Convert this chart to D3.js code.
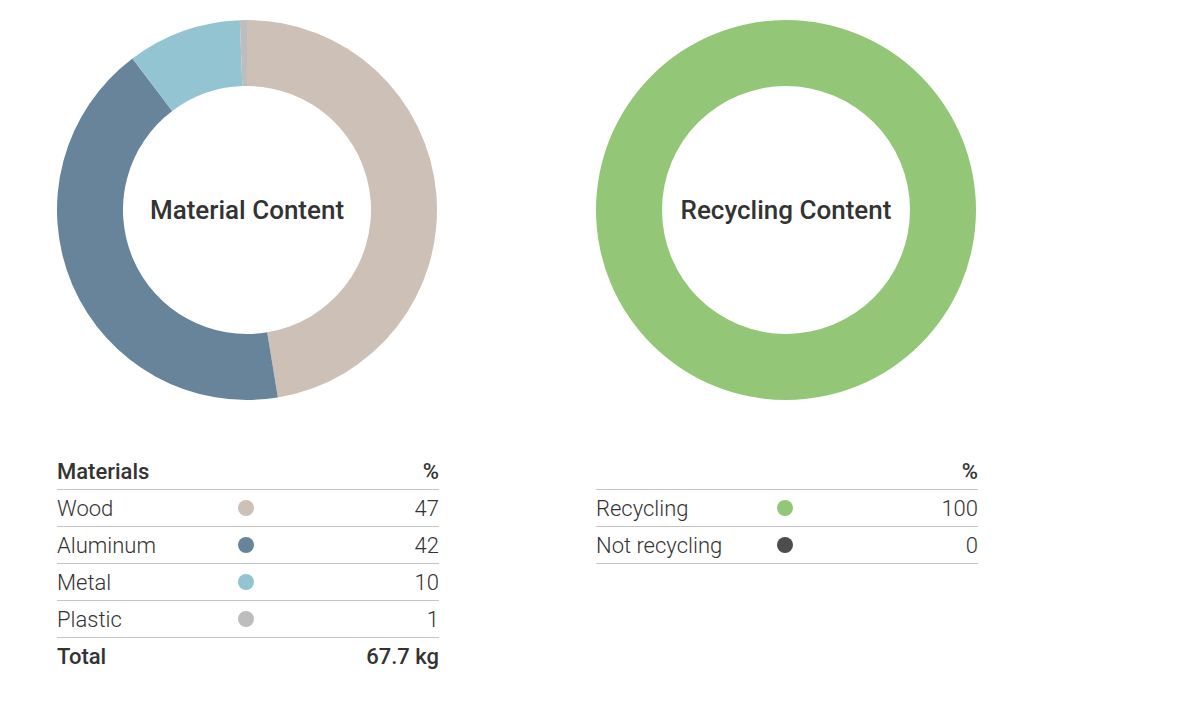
<!DOCTYPE html>
<html>
<head>
<meta charset="utf-8">
<script src="https://cdn.jsdelivr.net/npm/d3@7"></script>
<style>
  body { margin: 0; background: #fff; font-family: Roboto, "Open Sans", sans-serif; }
  .title { font-weight: 500; fill: #333; }
  .row { font-weight: 300; fill: #333; }
  .head { font-weight: 500; fill: #333; }
</style>
</head>
<body>
<div id="chart"></div>
<script>
const materials = ["Wood", "Aluminum", "Metal", "Plastic"];
// slice shares as drawn, and the rounded labels shown in the table
const materialShares = [47.4, 42.3, 9.7, 0.6];
const materialLabels = [47, 42, 10, 1];
const materialColors = ["#cdc0b7", "#68849b", "#93c4d2", "#bdbdbd"];
const materialTotal = "67.7 kg";

const recycling = ["Recycling", "Not recycling"];
const recyclingValues = [100, 0];
const recyclingColors = ["#93c677", "#4d4d4d"];

const svg = d3.select("#chart")
    .append("svg")
        .attr("width", 1200)
        .attr("height", 727);

const arc = d3.arc()
    .innerRadius(124)
    .outerRadius(190);

const pie = d3.pie()
    .sort(null)
    .value(d => d);

const drawDonut = (cx, cy, values, colors, title) => {
    const g = svg.append("g")
        .attr("transform", `translate(${cx}, ${cy})`);

    g.selectAll("path")
        .data(pie(values))
        .enter()
        .append("path")
            .attr("d", arc)
            .attr("fill", (d, i) => colors[i]);

    g.append("text")
        .classed("title", true)
        .attr("text-anchor", "middle")
        .attr("dy", "0.35em")
        .attr("font-size", 26)
        .text(title);
};

const drawTable = (x, y, width, header, names, values, colors, total) => {
    const rowH = 37;
    const fs = 22;
    const g = svg.append("g")
        .attr("transform", `translate(${x}, ${y})`);

    const rows = names.map((n, i) => ({ name: n, value: values[i], color: colors[i] }));

    const yScale = d3.scaleBand()
        .domain(d3.range(rows.length))
        .range([0, rows.length * rowH]);

    if (header) {
        g.append("text")
            .classed("head", true)
            .attr("y", -11)
            .attr("font-size", fs)
            .text(header);
    }
    g.append("text")
        .classed("head", true)
        .attr("x", width)
        .attr("y", -11)
        .attr("text-anchor", "end")
        .attr("font-size", fs)
        .text("%");

    g.append("line")
        .attr("x1", 0).attr("x2", width)
        .attr("stroke", "#c4c4c4");

    const row = g.selectAll("g.r")
        .data(rows)
        .enter()
        .append("g")
            .classed("r", true)
            .attr("transform", (d, i) => `translate(0, ${yScale(i)})`);

    row.append("text")
        .classed("row", true)
        .attr("y", rowH / 2)
        .attr("dy", "0.35em")
        .attr("font-size", fs)
        .text(d => d.name);

    row.append("circle")
        .attr("cx", 189)
        .attr("cy", rowH / 2)
        .attr("r", 8)
        .attr("fill", d => d.color);

    row.append("text")
        .classed("row", true)
        .attr("x", width)
        .attr("y", rowH / 2)
        .attr("dy", "0.35em")
        .attr("text-anchor", "end")
        .attr("font-size", fs)
        .text(d => d.value);

    row.append("line")
        .attr("x1", 0).attr("x2", width)
        .attr("y1", rowH).attr("y2", rowH)
        .attr("stroke", "#c4c4c4");

    if (total) {
        const ty = rows.length * rowH + rowH / 2;
        g.append("text")
            .classed("head", true)
            .attr("y", ty)
            .attr("dy", "0.35em")
            .attr("font-size", fs)
            .text("Total");
        g.append("text")
            .classed("head", true)
            .attr("x", width)
            .attr("y", ty)
            .attr("dy", "0.35em")
            .attr("text-anchor", "end")
            .attr("font-size", fs)
            .text(total);
    }
};

drawDonut(247, 210, materialShares, materialColors, "Material Content");
drawDonut(786, 210, recyclingValues, recyclingColors, "Recycling Content");

drawTable(57, 489.5, 382, "Materials", materials, materialLabels, materialColors, materialTotal);
drawTable(596, 489.5, 382, null, recycling, recyclingValues, recyclingColors, null);
</script>
</body>
</html>
